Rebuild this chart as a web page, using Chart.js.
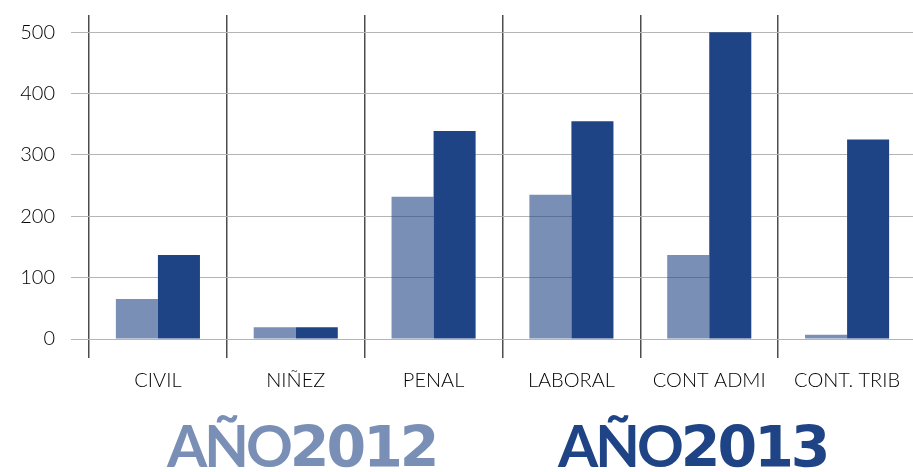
<!DOCTYPE html>
<html>
<head>
<meta charset="utf-8">
<script src="https://cdn.jsdelivr.net/npm/chart.js@4"></script>
<style>
    html, body { margin: 0; padding: 0; background: #fff; overflow: hidden; }
    #wrap { position: relative; width: 916px; height: 472px; }
    .year { position: absolute; top: 416px; line-height: 1; white-space: nowrap; }
    .year .word { font-family: Lato, sans-serif; font-weight: 700; font-size: 58px; letter-spacing: -3px; }
    .year .num { font-family: "DejaVu Sans", sans-serif; font-weight: 700; font-size: 57px; letter-spacing: -3px; }
</style>
</head>
<body>
<div id="wrap">
    <canvas id="chart" width="916" height="472"></canvas>
    <div class="year" id="y2012" style="left:167px;color:#798fb6"><span class="word">AÑO</span><span class="num">2012</span></div>
    <div class="year" id="y2013" style="left:558px;color:#1f4485"><span class="word">AÑO</span><span class="num">2013</span></div>
</div>
<script>
    const categories = ['CIVIL', 'NIÑEZ', 'PENAL', 'LABORAL', 'CONT ADMI', 'CONT. TRIB'];
    const values2012 = [65, 19, 232, 235, 137, 7];
    const values2013 = [137, 19, 339, 355, 500, 325];
    const yTicks = [0, 100, 200, 300, 400, 500];

    const ctx = document.getElementById('chart').getContext('2d');

    new Chart(ctx, {
        type: 'bar',
        data: {
            labels: categories,
            datasets: [{
                label: 'AÑO 2012',
                data: values2012,
                backgroundColor: 'rgba(31, 68, 133, 0.6)',
                categoryPercentage: 0.61,
                barPercentage: 1
            }, {
                label: 'AÑO 2013',
                data: values2013,
                backgroundColor: '#1f4485',
                categoryPercentage: 0.61,
                barPercentage: 1
            }]
        },
        options: {
            responsive: false,
            animation: false,
            layout: { padding: { top: 15, bottom: 68, left: 0, right: 0 } },
            plugins: {
                legend: { display: false },
                tooltip: { enabled: false }
            },
            scales: {
                x: {
                    grid: { color: '#4d4d4d', lineWidth: 1.5, tickLength: 19, offset: true },
                    border: { display: false },
                    ticks: { color: '#000', padding: 11, font: { family: 'Lato', size: 20, weight: 300 } }
                },
                y: {
                    min: 0,
                    max: 528,
                    afterBuildTicks: (scale) => {
                        scale.ticks = yTicks.map(v => ({ value: v }));
                    },
                    afterFit: (scale) => {
                        scale.width = 89;
                        scale.paddingTop = 0;
                        scale.paddingBottom = 0;
                    },
                    grid: { color: '#b5b5b5', lineWidth: 1, tickLength: 18 },
                    border: { display: false },
                    ticks: { color: '#000', padding: 16, font: { family: 'Lato', size: 20, weight: 300 } }
                }
            }
        }
    });
</script>
</body>
</html>
